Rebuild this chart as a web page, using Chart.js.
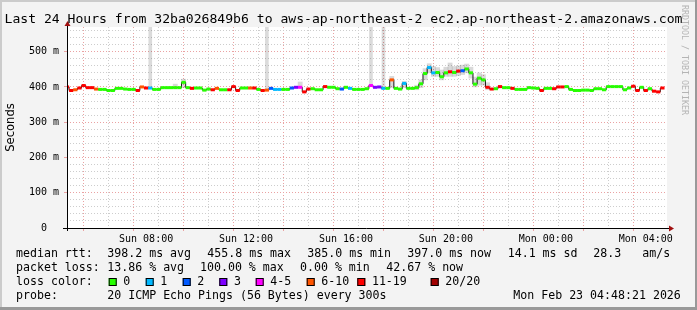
<!DOCTYPE html>
<html lang="en">
  <head>
    <meta charset="UTF-8" />
    <title>Smokeping - aws-ap-northeast-2</title>
    <script src="https://cdn.jsdelivr.net/npm/chart.js"></script>
    <style>
      body { margin: 0; background: #f3f3f3; }
      canvas { display: block; }
    </style>
  </head>
  <body>
    <canvas id="smoke" width="697" height="310"></canvas>
    <script>
      // x axis: hours counted from Sun 00:00, one sample every 10 minutes
      const startHour = 4 + 50 / 60;
      const endHour = 28 + 51 / 60;
      const stepHours = 10 / 60;
      const hourTicks = [5, 6, 7, 8, 9, 10, 11, 12, 13, 14, 15, 16, 17, 18, 19, 20, 21, 22, 23, 24, 25, 26, 27, 28];
      const labelHours = [8, 12, 16, 20, 24, 28];
      const yTicks = [0, 20, 40, 60, 80, 100, 120, 140, 160, 180, 200, 220, 240, 260, 280, 300, 320, 340, 360, 380, 400, 420, 440, 460, 480, 500, 520, 540, 560];
      const yMax = 570;

      // median rtt in ms
      const median = [
        400, 390, 392, 397, 404, 398, 398, 394, 393, 393,
        390, 390, 396, 396, 394, 393, 393, 390, 400, 397,
        397, 393, 393, 398, 398, 398, 398, 398, 413, 398,
        396, 397, 397, 391, 394, 392, 396, 392, 392, 392,
        401, 390, 397, 397, 397, 397, 393, 390, 391, 396,
        393, 393, 393, 393, 397, 399, 399, 386, 394, 395,
        392, 392, 401, 399, 399, 395, 394, 399, 396, 393,
        393, 393, 395, 404, 399, 400, 396, 396, 420, 396,
        394, 410, 396, 396, 398, 409, 438, 455, 440, 441,
        429, 440, 443, 441, 445, 446, 451, 440, 408, 425,
        420, 399, 394, 395, 401, 398, 398, 396, 393, 393,
        393, 398, 397, 396, 390, 396, 396, 395, 400, 400,
        401, 393, 390, 390, 391, 391, 390, 395, 395, 392,
        401, 401, 401, 401, 392, 397, 402, 390, 399, 390,
        395, 388, 386, 397
      ];
      // lost pings out of 20
      const loss = [
        15, 15, 8, 15, 15, 15, 15, 8, 0, 0,
        0, 0, 0, 0, 0, 0, 0, 15, 8, 15,
        1, 0, 0, 0, 0, 0, 0, 0, 0, 0,
        15, 0, 0, 0, 0, 15, 8, 0, 0, 15,
        15, 15, 0, 0, 8, 15, 0, 15, 8, 2,
        1, 1, 0, 0, 2, 3, 4, 15, 15, 0,
        0, 0, 15, 0, 0, 0, 2, 0, 1, 0,
        0, 0, 0, 4, 3, 3, 1, 0, 8, 0,
        0, 1, 0, 0, 0, 0, 0, 1, 1, 0,
        0, 0, 15, 0, 15, 2, 0, 0, 0, 0,
        0, 15, 15, 0, 15, 0, 0, 15, 0, 0,
        0, 0, 0, 0, 15, 0, 0, 15, 15, 15,
        0, 0, 0, 0, 0, 0, 0, 0, 0, 0,
        0, 0, 0, 0, 0, 0, 15, 15, 0, 15,
        0, 15, 15, 15
      ];

      // smoke (spread of the single pings) around some samples
      const smokeAt = [26, 28, 56, 78, 81, 84, 85, 86, 87, 88, 89, 90, 91, 92, 93, 94, 95, 96, 97, 98, 99, 100, 101];
      const smokeLo = [398, 398, 399, 398, 398, 392, 398, 420, 440, 430, 430, 420, 430, 430, 430, 432, 435, 440, 425, 400, 405, 405, 392];
      const smokeHi = [408, 422, 414, 430, 416, 405, 420, 452, 466, 458, 455, 448, 456, 468, 458, 460, 462, 465, 456, 428, 440, 435, 412];
      const spikeAt = [20, 48, 73, 76];
      const spikeLo = [397, 391, 404, 396];

      const lossSteps = [0, 1, 2, 3, 5, 10, 19, 20];
      const lossNames = ["0", "1", "2", "3", "4-5", "6-10", "11-19", "20/20"];
      const lossColors = ["#26ff00", "#00b8ff", "#0059ff", "#7e00ff", "#ff00ff", "#ff5500", "#ff0000", "#a10000"];
      const colorFor = (n) => lossColors[lossSteps.findIndex((s) => n <= s)];

      const times = median.map((_, i) => startHour + i * stepHours);
      const points = median.map((v, i) => ({ x: times[i], y: v }));

      const MAJOR = "#eaa2a2";
      const MINOR = "#cdcdcd";
      const NONE = "rgba(0,0,0,0)";
      const MONO = '"DejaVu Sans Mono", monospace';

      const hourLabel = (h) =>
        (h < 24 ? "Sun " : "Mon ") + String(h % 24).padStart(2, "0") + ":00";
      const tickVal = (c) => (c && c.tick ? c.tick.value : null);

      const frame = {
        id: "frame",
        beforeDraw(chart) {
          const { ctx, chartArea: a } = chart;
          ctx.save();
          ctx.fillStyle = "#f3f3f3";
          ctx.fillRect(0, 0, 697, 310);
          ctx.fillStyle = "#cbcbcb";
          ctx.fillRect(0, 0, 697, 2);
          ctx.fillRect(0, 0, 2, 310);
          ctx.fillStyle = "#999999";
          ctx.fillRect(695, 0, 2, 310);
          ctx.fillRect(0, 307, 697, 3);
          ctx.fillStyle = "#ffffff";
          ctx.fillRect(a.left, a.top, a.right - a.left, a.bottom - a.top);
          ctx.restore();
        },
        afterDraw(chart) {
          const { ctx, chartArea: a } = chart;
          ctx.save();
          // axes and arrows
          ctx.strokeStyle = "#000";
          ctx.lineWidth = 1;
          ctx.beginPath();
          ctx.moveTo(a.left - 4, a.bottom + 0.5);
          ctx.lineTo(a.right + 3, a.bottom + 0.5);
          ctx.moveTo(a.left + 0.5, a.bottom + 3);
          ctx.lineTo(a.left + 0.5, a.top - 3);
          ctx.stroke();
          ctx.fillStyle = "#a01010";
          ctx.beginPath();
          ctx.moveTo(a.right + 2, a.bottom - 2.5);
          ctx.lineTo(a.right + 7, a.bottom + 0.5);
          ctx.lineTo(a.right + 2, a.bottom + 3.5);
          ctx.fill();
          ctx.beginPath();
          ctx.moveTo(a.left - 2.5, a.top - 1);
          ctx.lineTo(a.left + 0.5, a.top - 6);
          ctx.lineTo(a.left + 3.5, a.top - 1);
          ctx.fill();

          ctx.fillStyle = "#000";
          ctx.textBaseline = "alphabetic";
          ctx.font = "13.1px " + MONO;
          ctx.fillText(
            "Last 24 Hours from 32ba026849b6 to aws-ap-northeast-2 ec2.ap-northeast-2.amazonaws.com",
            4.5, 23
          );

          // y title
          ctx.save();
          ctx.translate(10.5, 127.5);
          ctx.rotate(-Math.PI / 2);
          ctx.font = '11.6px "DejaVu Sans", sans-serif';
          ctx.textAlign = "center";
          ctx.textBaseline = "middle";
          ctx.fillText("Seconds", 0, 0);
          ctx.restore();

          // watermark
          ctx.save();
          ctx.translate(684, 5);
          ctx.rotate(Math.PI / 2);
          ctx.font = "8.3px " + MONO;
          ctx.fillStyle = "#b4b4b4";
          ctx.textBaseline = "middle";
          ctx.fillText("RRDTOOL / TOBI OETIKER", 0, 0);
          ctx.restore();

          // legend
          ctx.font = "11.6px " + MONO;
          ctx.textBaseline = "middle";
          const rows = [
            [254, [[16, "median rtt:"], [107.3, "398.2 ms avg"], [207.3, "455.8 ms max"], [307.3, "385.0 ms min"], [407.3, "397.0 ms now"], [507.7, "14.1 ms sd"], [593.3, "28.3"], [642.3, "am/s"]]],
            [268, [[16, "packet loss:"], [107.3, "13.86 % avg"], [200, "100.00 % max"], [300, "0.00 % min"], [386.3, "42.67 % now"]]],
            [282, [[16, "loss color:"]]],
            [296, [[16, "probe:"], [107.3, "20 ICMP Echo Pings (56 Bytes) every 300s"], [513.3, "Mon Feb 23 04:48:21 2026"]]],
          ];
          rows.forEach(([y, items]) => items.forEach(([x, t]) => ctx.fillText(t, x, y)));
          const boxX = [108.7, 145.7, 182.7, 219.3, 255.7, 306.7, 357.3, 430.7];
          lossNames.forEach((name, i) => {
            ctx.fillStyle = lossColors[i];
            ctx.fillRect(boxX[i], 278, 8, 8);
            ctx.strokeStyle = "#000";
            ctx.strokeRect(boxX[i] + 0.5, 278.5, 7, 7);
            ctx.fillStyle = "#000";
            ctx.fillText(name, boxX[i] + 14.6, 282);
          });
          ctx.restore();
        },
      };

      Chart.defaults.font.family = MONO;
      Chart.defaults.color = "#000";

      new Chart(document.getElementById("smoke"), {
        type: "line",
        data: {
          datasets: [
            {
              data: points,
              showLine: false,
              pointStyle: "line",
              pointRadius: 2.1,
              pointHoverRadius: 2.1,
              pointBorderWidth: 3,
              pointBorderColor: loss.map(colorFor),
            },
            {
              data: points,
              stepped: "middle",
              borderColor: "#1c1c1c",
              borderWidth: 1,
              pointRadius: 0,
            },
            {
              type: "bar",
              data: smokeAt.map((k, j) => ({ x: times[k], y: [smokeLo[j], smokeHi[j]] })),
              backgroundColor: "rgba(0,0,0,0.15)",
              barThickness: 4.2,
              grouped: false,
            },
            {
              type: "bar",
              data: spikeAt.map((k, j) => ({ x: times[k], y: [spikeLo[j], yMax] })),
              backgroundColor: "rgba(0,0,0,0.14)",
              barThickness: 3,
              grouped: false,
            },
          ],
        },
        options: {
          responsive: false,
          animation: false,
          events: [],
          layout: { padding: { left: 0, right: 30, top: 27, bottom: 0 } },
          plugins: { legend: { display: false }, tooltip: { enabled: false } },
          scales: {
            x: {
              type: "linear",
              min: startHour,
              max: endHour,
              offset: false,
              afterBuildTicks: (s) => { s.ticks = hourTicks.map((v) => ({ value: v })); },
              afterFit: (s) => { s.height = 82; },
              border: { display: false, dash: [1, 2] },
              grid: {
                color: (c) => { const v = tickVal(c); return v === null ? NONE : v % 2 === 0 ? MAJOR : MINOR; },
                tickColor: (c) => { const v = tickVal(c); return v !== null && v % 2 === 0 ? MAJOR : NONE; },
                tickLength: 3,
              },
              ticks: {
                autoSkip: false,
                maxRotation: 0,
                padding: 2,
                font: { size: 10 },
                callback: (v) => (labelHours.includes(v) ? hourLabel(v) : ""),
              },
            },
            y: {
              min: 0,
              max: yMax,
              afterBuildTicks: (s) => { s.ticks = yTicks.map((v) => ({ value: v })); },
              afterFit: (s) => { s.width = 67; },
              border: { display: false, dash: [1, 2] },
              grid: {
                color: (c) => { const v = tickVal(c); return !v ? NONE : v % 100 === 0 ? MAJOR : MINOR; },
                tickColor: (c) => { const v = tickVal(c); return v === 0 ? "#000" : v && v % 100 === 0 ? MAJOR : NONE; },
                tickLength: 3,
              },
              ticks: {
                autoSkip: false,
                padding: 5,
                font: { size: 10 },
                callback: (v) => (v % 100 === 0 ? (v === 0 ? "0  " : v + " m") : ""),
              },
            },
          },
        },
        plugins: [frame],
      });
    </script>
  </body>
</html>
